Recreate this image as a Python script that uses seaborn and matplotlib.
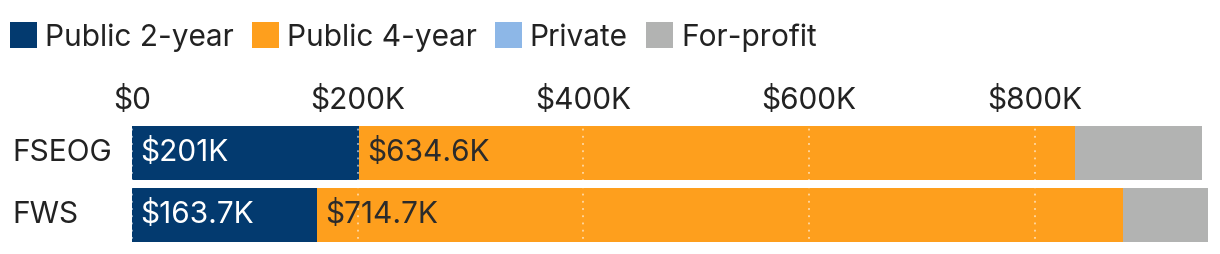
import numpy as np
import pandas as pd
import matplotlib
matplotlib.use("Agg")
import matplotlib.pyplot as plt
import matplotlib.transforms as mtransforms
from matplotlib.patches import Patch
import seaborn as sns

# ---- data ----
categories = ["FSEOG", "FWS"]
series_names = ["Public 2-year", "Public 4-year", "Private", "For-profit"]
public_2yr = [201.0, 163.7]
public_4yr = [634.6, 714.7]
private = [0.0, 0.0]
for_profit = [112.4, 74.9]
tick_values = [0, 200, 400, 600, 800]
tick_labels = ["$0", "$200K", "$400K", "$600K", "$800K"]

colors = ["#033A6F", "#FE9F1D", "#8DB7E7", "#B2B3B2"]
label_colors = ["white", "#2b2b2b", None, None]

sns.set_theme(style="white")
plt.rcParams["font.family"] = ["Inter", "DejaVu Sans"]
FS = 21.5

W, H, DPI = 1220, 254, 100
fig = plt.figure(figsize=(W / DPI, H / DPI), dpi=DPI)
ax = fig.add_axes([132 / W, 8 / H, (1208 - 132) / W, (246 - 122) / H])

series = [public_2yr, public_4yr, private, for_profit]
cum = np.cumsum(np.array(series), axis=0)  # shape (4, n)
df = pd.DataFrame({"category": categories})

# draw cumulative totals from largest to smallest so segments stack
for i in range(len(series) - 1, -1, -1):
    d = df.copy()
    d["value"] = cum[i]
    sns.barplot(data=d, x="value", y="category", orient="h", color=colors[i],
                width=0.87, saturation=1, ax=ax, linewidth=0, zorder=1)

ax.set_xlim(0, cum[-1].max())
ax.set_ylim(1.5, -0.5)

# top ticks
ax.xaxis.tick_top()
ax.set_xticks(tick_values)
ax.set_xticklabels(tick_labels, fontsize=FS, color="#222222")
ax.tick_params(axis="x", length=0, pad=5)
ax.set_xlabel("")
ax.set_ylabel("")
ax.set_yticks([])
for s in ax.spines.values():
    s.set_visible(False)

# dotted white gridlines over bars
ax.set_axisbelow(False)
ax.grid(axis="x", color="white", linestyle=(0, (1, 3)), linewidth=1.3, alpha=0.6)
ax.grid(axis="y", visible=False)

# category labels left aligned
trans = mtransforms.blended_transform_factory(fig.transFigure, ax.transData)
for j, c in enumerate(categories):
    ax.text(12 / W, j, c, transform=trans, ha="left", va="center",
            fontsize=FS, color="#222222")

# segment value labels
offset = mtransforms.ScaledTranslation(8 / DPI, 0, fig.dpi_scale_trans)
for i, vals in enumerate(series):
    if label_colors[i] is None:
        continue
    for j, v in enumerate(vals):
        start = cum[i][j] - v
        txt = f"${v:.1f}K".replace(".0K", "K")
        ax.text(start, j, txt, transform=ax.transData + offset, ha="left",
                va="center", fontsize=FS, color=label_colors[i], zorder=5)

# legend
handles = [Patch(facecolor=c, edgecolor="none") for c in colors]
fig.legend(handles, series_names, loc="center left", bbox_to_anchor=(10 / W, 1 - 37 / H),
           ncol=4, frameon=False, fontsize=FS, handlelength=0.9, handleheight=0.95,
           handletextpad=0.26, columnspacing=0.62, borderaxespad=0, borderpad=0,
           labelcolor="#222222")

fig.savefig("out.png", dpi=DPI)
